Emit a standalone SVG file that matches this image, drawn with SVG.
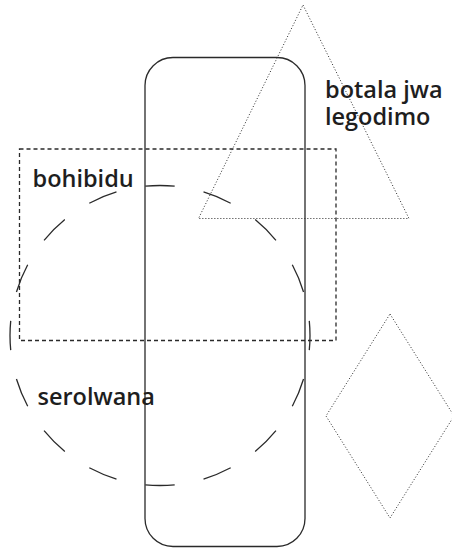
<svg xmlns="http://www.w3.org/2000/svg" width="452" height="549" viewBox="0 0 452 549">
<style>
.lbl{font-family:"Open Sans","Noto Sans",sans-serif;font-weight:600;font-size:23.5px;fill:#1e1e1e}
.shape{fill:none;stroke:#2a2a2a}
</style>
<rect width="452" height="549" fill="#fff"/>
<g id="rounded-rect"><rect class="shape" x="145" y="57.5" width="160" height="489" rx="28" ry="28" stroke-width="1.3"/></g>
<g id="circle"><circle class="shape" cx="160" cy="335.5" r="150" pathLength="64" stroke-dasharray="2 2" stroke-dashoffset="1" stroke-width="1.3"/></g>
<g id="dashed-rect"><rect class="shape" x="19.5" y="149" width="316.5" height="191.5" stroke-dasharray="4 3" stroke-width="1.3"/></g>
<g id="triangle"><polygon class="shape" points="303,5 409,218.5 198.5,218.5" stroke-dasharray="1 2" stroke-width="1"/></g>
<g id="diamond"><polygon class="shape" points="390,314 454,416 390,518 326,416" stroke-dasharray="1 2" stroke-width="1"/></g>
<g id="labels">
<text class="lbl" x="325" y="98">botala jwa</text>
<text class="lbl" x="325" y="125">legodimo</text>
<text class="lbl" x="32.5" y="187">bohibidu</text>
<text class="lbl" x="37.5" y="404.5">serolwana</text>
</g>
<g id="connectors"></g>
</svg>
